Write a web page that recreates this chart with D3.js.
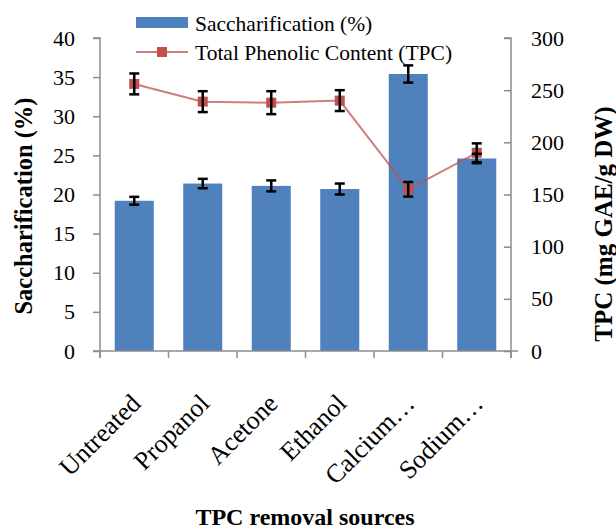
<!DOCTYPE html>
<html><head><meta charset="utf-8">
<script src="https://cdn.jsdelivr.net/npm/d3@7"></script>
<style>body{margin:0;background:#fff}svg{display:block}</style>
</head><body><svg id="c" width="616" height="529" font-family="Liberation Serif, Times New Roman, serif"></svg>
<script>
const categories = ["Untreated","Propanol","Acetone","Ethanol","Calcium\u2026","Sodium\u2026"];
const saccharification = [19.2, 21.4, 21.1, 20.7, 35.4, 24.6];
const saccharificationErr = [0.5, 0.6, 0.7, 0.7, 1.1, 0.6];
const tpc = [256, 239, 238, 240, 155, 190];
const tpcErr = [10, 10, 11, 10, 7, 9];
const leftTicks = [0,5,10,15,20,25,30,35,40];
const rightTicks = [0,50,100,150,200,250,300];

const FONT = "Liberation Serif, Times New Roman, serif";
const svg = d3.select("#c");
const L = 100, R = 511, T = 38, B = 351;
const axisColor = "#8c8c8c";
const x = d3.scaleBand().domain(categories).range([L, R]).paddingInner(0.43).paddingOuter(0.215);
const yL = d3.scaleLinear().domain([0, 40]).range([B, T]);
const yR = d3.scaleLinear().domain([0, 300]).range([B, T]);
const step = x.step();

// left axis
const gL = svg.append("g").attr("transform", `translate(${L},0)`)
  .call(d3.axisLeft(yL).tickValues(leftTicks).tickSize(7).tickPadding(18).tickFormat(d3.format("d")));
gL.attr("font-family", FONT);
gL.select(".domain").attr("stroke", axisColor).attr("stroke-width", 1.5).attr("d", `M-7,${T}H0V${B+7}`);
gL.selectAll(".tick line").attr("stroke", axisColor).attr("stroke-width", 1.5);
gL.selectAll(".tick text").attr("font-size", 22).attr("fill", "#000");

// right axis
const gR = svg.append("g").attr("transform", `translate(${R},0)`)
  .call(d3.axisRight(yR).tickValues(rightTicks).tickSize(-7).tickPadding(20).tickFormat(d3.format("d")));
gR.attr("font-family", FONT);
gR.select(".domain").attr("stroke", axisColor).attr("stroke-width", 1.5).attr("d", `M-7,${T}H0V${B+7}`);
gR.selectAll(".tick line").attr("stroke", axisColor).attr("stroke-width", 1.5);
gR.selectAll(".tick text").attr("font-size", 22).attr("fill", "#000");

// bars
svg.append("g").selectAll("rect").data(categories).join("rect")
  .attr("x", d => x(d)).attr("width", x.bandwidth())
  .attr("y", (d,i) => yL(saccharification[i])).attr("height", (d,i) => B - yL(saccharification[i]))
  .attr("fill", "#4F81BD");

// x axis
const gX = svg.append("g");
gX.append("line").attr("x1", L - 7).attr("x2", R + 7).attr("y1", B).attr("y2", B).attr("stroke", axisColor).attr("stroke-width", 1.5);
const boundaries = categories.map(c => x(c) - step * x.paddingInner() / 2).concat([R]);
gX.selectAll("line.t").data(boundaries).join("line").attr("class","t")
  .attr("x1", d => d).attr("x2", d => d).attr("y1", B).attr("y2", B + 7).attr("stroke", axisColor).attr("stroke-width", 1.5);
gX.selectAll("text").data(categories).join("text")
  .attr("transform", d => `translate(${x(d) + x.bandwidth()/2 + 8},${B + 54}) rotate(-45)`)
  .attr("text-anchor", "end").attr("font-size", 26).text(d => d);

// TPC line
const cx = i => x(categories[i]) + x.bandwidth() / 2;
const line = d3.line().x((d, i) => cx(i)).y(d => yR(d));
svg.append("path").datum(tpc).attr("d", line).attr("fill", "none").attr("stroke", "#C0504D").attr("stroke-opacity", 0.75).attr("stroke-width", 2);
svg.append("g").selectAll("rect").data(tpc).join("rect")
  .attr("x", (d,i) => cx(i) - 5).attr("y", d => yR(d) - 5).attr("width", 10).attr("height", 10).attr("fill", "#C0504D");

// error bars
function errBars(vals, errs, scale) {
  const g = svg.append("g").attr("stroke", "#000").attr("stroke-width", 2.5);
  vals.forEach((v, i) => {
    const c = cx(i), y1 = scale(v + errs[i]), y2 = scale(v - errs[i]);
    g.append("line").attr("x1", c).attr("x2", c).attr("y1", y1).attr("y2", y2);
    g.append("line").attr("x1", c - 5).attr("x2", c + 5).attr("y1", y1).attr("y2", y1);
    g.append("line").attr("x1", c - 5).attr("x2", c + 5).attr("y1", y2).attr("y2", y2);
  });
}
errBars(saccharification, saccharificationErr, yL);
errBars(tpc, tpcErr, yR);

// axis titles
svg.append("text").attr("transform", `translate(32,206) rotate(-90)`).attr("text-anchor", "middle")
  .attr("font-size", 24.5).attr("font-weight", "bold").text("Saccharification (%)");
svg.append("text").attr("transform", `translate(612,224) rotate(-90)`).attr("text-anchor", "middle")
  .attr("font-size", 25).attr("font-weight", "bold").text("TPC (mg GAE/g DW)");
svg.append("text").attr("x", 305).attr("y", 525).attr("text-anchor", "middle")
  .attr("font-size", 24).attr("font-weight", "bold").text("TPC removal sources");

// legend
const lg = svg.append("g");
lg.append("rect").attr("x", 136).attr("y", 17).attr("width", 52).attr("height", 11).attr("fill", "#4F81BD");
lg.append("text").attr("x", 195).attr("y", 31).attr("font-size", 21.5).text("Saccharification (%)");
lg.append("line").attr("x1", 136).attr("x2", 188).attr("y1", 52).attr("y2", 52).attr("stroke", "#C0504D").attr("stroke-width", 1.5);
lg.append("rect").attr("x", 157).attr("y", 47).attr("width", 10).attr("height", 10).attr("fill", "#C0504D");
lg.append("text").attr("x", 195).attr("y", 60).attr("font-size", 21.5).text("Total Phenolic Content (TPC)");
</script></body></html>
